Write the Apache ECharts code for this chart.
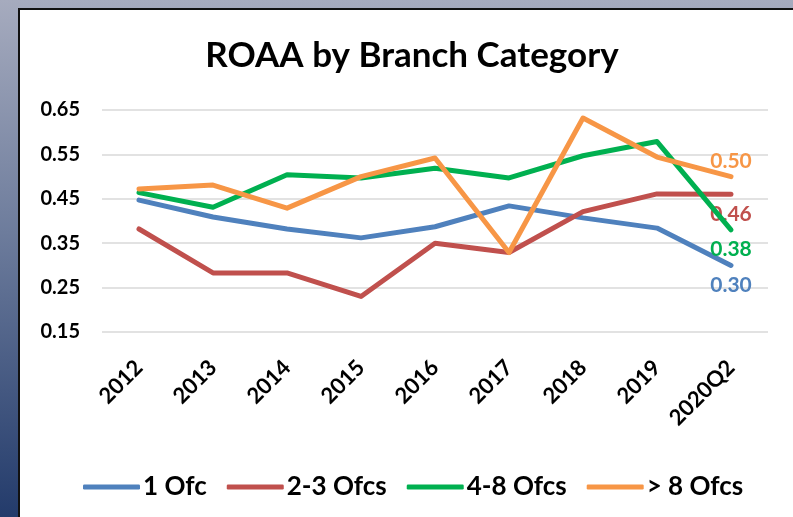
<!DOCTYPE html>
<html>
<head>
<meta charset="utf-8">
<script src="https://cdn.jsdelivr.net/npm/echarts@6/dist/echarts.min.js"></script>
<style>
  html, body { margin: 0; padding: 0; }
  body {
    width: 793px; height: 517px; overflow: hidden; position: relative;
    background: linear-gradient(to bottom, #a6abbe 0%, #6d7c9c 45%, #233b6b 100%);
  }
  .panel {
    position: absolute; left: 18px; top: 8px; width: 800px; height: 520px;
    background: #fff; border-left: 2px solid #111; border-top: 2px solid #111;
  }
  #chart { position: absolute; left: 0; top: 0; width: 793px; height: 517px; }
</style>
</head>
<body>
<div class="panel"></div>
<div id="chart"></div>
<script>
// categories / values
var categories = ['2012', '2013', '2014', '2015', '2016', '2017', '2018', '2019', '2020Q2'];
var seriesNames = ['1 Ofc', '2-3 Ofcs', '4-8 Ofcs', '> 8 Ofcs'];
var ofc1   = [0.447, 0.409, 0.382, 0.362, 0.387, 0.434, 0.407, 0.384, 0.30];
var ofc2_3 = [0.382, 0.283, 0.283, 0.230, 0.350, 0.329, 0.421, 0.461, 0.46];
var ofc4_8 = [0.464, 0.431, 0.504, 0.497, 0.519, 0.497, 0.547, 0.579, 0.38];
var ofc8p  = [0.472, 0.481, 0.429, 0.500, 0.542, 0.329, 0.632, 0.544, 0.50];
var yTicks = { min: 0.15, max: 0.65, step: 0.1 };

var colors = ['#4f81bd', '#c0504d', '#00b050', '#f79646'];
var labelPos = ['bottom', 'bottom', 'bottom', 'top'];
var FONT = 'Lato';

// only the last point gets a value label
function withEndLabel(vals, idx) {
  return vals.map(function (v, i) {
    if (i !== vals.length - 1) return v;
    return {
      value: v,
      label: {
        show: true,
        position: labelPos[idx],
        distance: labelPos[idx] === 'top' ? 5 : 9,
        color: colors[idx],
        fontFamily: FONT,
        fontWeight: 'bold',
        fontSize: 21,
        formatter: function (p) { return p.value.toFixed(2); }
      }
    };
  });
}

var allVals = [ofc1, ofc2_3, ofc4_8, ofc8p];
var series = allVals.map(function (vals, i) {
  return {
    name: seriesNames[i],
    type: 'line',
    showSymbol: true,
    symbol: 'circle',
    symbolSize: 0.1,
    lineStyle: { width: 5, color: colors[i], cap: 'round', join: 'round' },
    itemStyle: { color: colors[i] },
    data: withEndLabel(vals, i),
    z: 2 + i
  };
});

var chart = echarts.init(document.getElementById('chart'));
chart.setOption({
  animation: false,
  backgroundColor: 'transparent',
  title: {
    text: 'ROAA by Branch Category',
    left: 407,
    top: 33,
    textAlign: 'center',
    textStyle: { fontFamily: FONT, fontWeight: 'bold', fontSize: 35, color: '#000' }
  },
  legend: {
    data: seriesNames,
    left: 78,
    top: 469,
    icon: 'roundRect',
    itemWidth: 57,
    itemHeight: 5,
    itemGap: 20,
    textStyle: { fontFamily: FONT, fontWeight: 'bold', fontSize: 26, color: '#000', padding: [0, 0, 0, -2] }
  },
  grid: { left: 102, right: 25, top: 110, bottom: 185, containLabel: false },
  xAxis: {
    type: 'category',
    data: categories,
    boundaryGap: true,
    axisLine: { show: false },
    axisTick: { show: false },
    axisLabel: {
      rotate: 45,
      margin: 32,
      interval: 0,
      fontFamily: FONT,
      fontWeight: 'bold',
      fontSize: 22,
      color: '#000'
    }
  },
  yAxis: {
    type: 'value',
    min: yTicks.min,
    max: yTicks.max,
    interval: yTicks.step,
    axisLine: { show: false },
    axisTick: { show: false },
    splitLine: { lineStyle: { color: '#d9d9d9', width: 1.5 } },
    axisLabel: {
      margin: 22,
      fontFamily: FONT,
      fontWeight: 'bold',
      fontSize: 20,
      color: '#000',
      formatter: function (v) { return v.toFixed(2); }
    }
  },
  series: series
});
</script>
</body>
</html>
